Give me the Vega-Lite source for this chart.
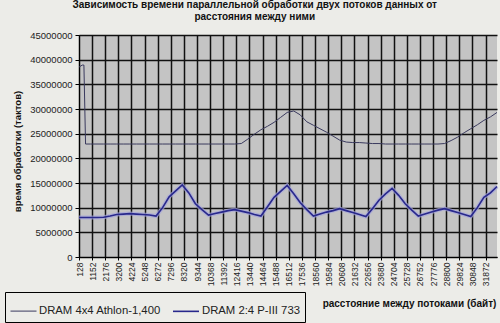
{
  "$schema": "https://vega.github.io/schema/vega-lite/v6.json",
  "width": 418,
  "height": 222,
  "autosize": {"type": "none"},
  "padding": {"left": 79, "top": 35, "right": 3, "bottom": 66},
  "background": "#ecece8",
  "title": {
    "text": "Зависимость времени параллельной обработки двух потоков данных от",
    "subtitle": "расстояния между ними",
    "font": "Liberation Sans",
    "subtitleFont": "Liberation Sans",
    "fontSize": 10,
    "subtitleFontSize": 10,
    "fontWeight": "bold",
    "subtitleFontWeight": "bold",
    "color": "#111111",
    "subtitleColor": "#111111",
    "anchor": "middle",
    "frame": "bounds",
    "offset": 8,
    "subtitlePadding": 2
  },
  "config": {
    "view": {"fill": "#c4c4c4", "stroke": null},
    "font": "Liberation Sans"
  },
  "data": {
    "values": [
      {"x": 128, "s": "DRAM 4x4 Athlon-1,400", "v": 38500000},
      {"x": 384, "s": "DRAM 4x4 Athlon-1,400", "v": 38900000},
      {"x": 512, "s": "DRAM 4x4 Athlon-1,400", "v": 38900000},
      {"x": 640, "s": "DRAM 4x4 Athlon-1,400", "v": 22900000},
      {"x": 1024, "s": "DRAM 4x4 Athlon-1,400", "v": 22900000},
      {"x": 1536, "s": "DRAM 4x4 Athlon-1,400", "v": 22900000},
      {"x": 2048, "s": "DRAM 4x4 Athlon-1,400", "v": 22900000},
      {"x": 2560, "s": "DRAM 4x4 Athlon-1,400", "v": 22900000},
      {"x": 3072, "s": "DRAM 4x4 Athlon-1,400", "v": 22900000},
      {"x": 3584, "s": "DRAM 4x4 Athlon-1,400", "v": 22900000},
      {"x": 4096, "s": "DRAM 4x4 Athlon-1,400", "v": 22900000},
      {"x": 4608, "s": "DRAM 4x4 Athlon-1,400", "v": 22900000},
      {"x": 5120, "s": "DRAM 4x4 Athlon-1,400", "v": 22900000},
      {"x": 5632, "s": "DRAM 4x4 Athlon-1,400", "v": 22900000},
      {"x": 6144, "s": "DRAM 4x4 Athlon-1,400", "v": 22900000},
      {"x": 6656, "s": "DRAM 4x4 Athlon-1,400", "v": 22900000},
      {"x": 7168, "s": "DRAM 4x4 Athlon-1,400", "v": 22900000},
      {"x": 7680, "s": "DRAM 4x4 Athlon-1,400", "v": 22900000},
      {"x": 8192, "s": "DRAM 4x4 Athlon-1,400", "v": 22900000},
      {"x": 8704, "s": "DRAM 4x4 Athlon-1,400", "v": 22900000},
      {"x": 9216, "s": "DRAM 4x4 Athlon-1,400", "v": 22900000},
      {"x": 9728, "s": "DRAM 4x4 Athlon-1,400", "v": 22900000},
      {"x": 10240, "s": "DRAM 4x4 Athlon-1,400", "v": 22900000},
      {"x": 10752, "s": "DRAM 4x4 Athlon-1,400", "v": 22900000},
      {"x": 11264, "s": "DRAM 4x4 Athlon-1,400", "v": 22900000},
      {"x": 11776, "s": "DRAM 4x4 Athlon-1,400", "v": 22900000},
      {"x": 12288, "s": "DRAM 4x4 Athlon-1,400", "v": 22900000},
      {"x": 12800, "s": "DRAM 4x4 Athlon-1,400", "v": 23000000},
      {"x": 13312, "s": "DRAM 4x4 Athlon-1,400", "v": 23900000},
      {"x": 13824, "s": "DRAM 4x4 Athlon-1,400", "v": 24900000},
      {"x": 14336, "s": "DRAM 4x4 Athlon-1,400", "v": 25800000},
      {"x": 14848, "s": "DRAM 4x4 Athlon-1,400", "v": 26500000},
      {"x": 15360, "s": "DRAM 4x4 Athlon-1,400", "v": 27300000},
      {"x": 15872, "s": "DRAM 4x4 Athlon-1,400", "v": 28300000},
      {"x": 16384, "s": "DRAM 4x4 Athlon-1,400", "v": 29300000},
      {"x": 16896, "s": "DRAM 4x4 Athlon-1,400", "v": 29600000},
      {"x": 17408, "s": "DRAM 4x4 Athlon-1,400", "v": 28800000},
      {"x": 17920, "s": "DRAM 4x4 Athlon-1,400", "v": 27400000},
      {"x": 18432, "s": "DRAM 4x4 Athlon-1,400", "v": 26700000},
      {"x": 18944, "s": "DRAM 4x4 Athlon-1,400", "v": 26000000},
      {"x": 19456, "s": "DRAM 4x4 Athlon-1,400", "v": 25300000},
      {"x": 19968, "s": "DRAM 4x4 Athlon-1,400", "v": 24500000},
      {"x": 20480, "s": "DRAM 4x4 Athlon-1,400", "v": 23700000},
      {"x": 20992, "s": "DRAM 4x4 Athlon-1,400", "v": 23300000},
      {"x": 21504, "s": "DRAM 4x4 Athlon-1,400", "v": 23200000},
      {"x": 22016, "s": "DRAM 4x4 Athlon-1,400", "v": 23200000},
      {"x": 22528, "s": "DRAM 4x4 Athlon-1,400", "v": 23100000},
      {"x": 23040, "s": "DRAM 4x4 Athlon-1,400", "v": 23000000},
      {"x": 23552, "s": "DRAM 4x4 Athlon-1,400", "v": 23000000},
      {"x": 24064, "s": "DRAM 4x4 Athlon-1,400", "v": 22900000},
      {"x": 24576, "s": "DRAM 4x4 Athlon-1,400", "v": 22900000},
      {"x": 25088, "s": "DRAM 4x4 Athlon-1,400", "v": 22900000},
      {"x": 25600, "s": "DRAM 4x4 Athlon-1,400", "v": 22900000},
      {"x": 26112, "s": "DRAM 4x4 Athlon-1,400", "v": 22900000},
      {"x": 26624, "s": "DRAM 4x4 Athlon-1,400", "v": 22900000},
      {"x": 27136, "s": "DRAM 4x4 Athlon-1,400", "v": 22900000},
      {"x": 27648, "s": "DRAM 4x4 Athlon-1,400", "v": 22900000},
      {"x": 28160, "s": "DRAM 4x4 Athlon-1,400", "v": 22900000},
      {"x": 28672, "s": "DRAM 4x4 Athlon-1,400", "v": 23000000},
      {"x": 29184, "s": "DRAM 4x4 Athlon-1,400", "v": 23600000},
      {"x": 29696, "s": "DRAM 4x4 Athlon-1,400", "v": 24300000},
      {"x": 30208, "s": "DRAM 4x4 Athlon-1,400", "v": 25200000},
      {"x": 30720, "s": "DRAM 4x4 Athlon-1,400", "v": 26000000},
      {"x": 31232, "s": "DRAM 4x4 Athlon-1,400", "v": 26800000},
      {"x": 31744, "s": "DRAM 4x4 Athlon-1,400", "v": 27700000},
      {"x": 32256, "s": "DRAM 4x4 Athlon-1,400", "v": 28400000},
      {"x": 32768, "s": "DRAM 4x4 Athlon-1,400", "v": 29300000},
      {"x": 128, "s": "DRAM 2:4 P-III 733", "v": 8000000},
      {"x": 384, "s": "DRAM 2:4 P-III 733", "v": 8000000},
      {"x": 512, "s": "DRAM 2:4 P-III 733", "v": 8000000},
      {"x": 640, "s": "DRAM 2:4 P-III 733", "v": 8000000},
      {"x": 1024, "s": "DRAM 2:4 P-III 733", "v": 8000000},
      {"x": 1536, "s": "DRAM 2:4 P-III 733", "v": 8000000},
      {"x": 2048, "s": "DRAM 2:4 P-III 733", "v": 8050000},
      {"x": 2560, "s": "DRAM 2:4 P-III 733", "v": 8300000},
      {"x": 3072, "s": "DRAM 2:4 P-III 733", "v": 8600000},
      {"x": 3584, "s": "DRAM 2:4 P-III 733", "v": 8700000},
      {"x": 4096, "s": "DRAM 2:4 P-III 733", "v": 8800000},
      {"x": 4608, "s": "DRAM 2:4 P-III 733", "v": 8700000},
      {"x": 5120, "s": "DRAM 2:4 P-III 733", "v": 8600000},
      {"x": 5632, "s": "DRAM 2:4 P-III 733", "v": 8500000},
      {"x": 6144, "s": "DRAM 2:4 P-III 733", "v": 8300000},
      {"x": 6656, "s": "DRAM 2:4 P-III 733", "v": 10000000},
      {"x": 7168, "s": "DRAM 2:4 P-III 733", "v": 12200000},
      {"x": 7680, "s": "DRAM 2:4 P-III 733", "v": 13400000},
      {"x": 8192, "s": "DRAM 2:4 P-III 733", "v": 14600000},
      {"x": 8704, "s": "DRAM 2:4 P-III 733", "v": 13000000},
      {"x": 9216, "s": "DRAM 2:4 P-III 733", "v": 10800000},
      {"x": 9728, "s": "DRAM 2:4 P-III 733", "v": 9600000},
      {"x": 10240, "s": "DRAM 2:4 P-III 733", "v": 8500000},
      {"x": 10752, "s": "DRAM 2:4 P-III 733", "v": 8800000},
      {"x": 11264, "s": "DRAM 2:4 P-III 733", "v": 9100000},
      {"x": 11776, "s": "DRAM 2:4 P-III 733", "v": 9400000},
      {"x": 12288, "s": "DRAM 2:4 P-III 733", "v": 9600000},
      {"x": 12800, "s": "DRAM 2:4 P-III 733", "v": 9300000},
      {"x": 13312, "s": "DRAM 2:4 P-III 733", "v": 9000000},
      {"x": 13824, "s": "DRAM 2:4 P-III 733", "v": 8600000},
      {"x": 14336, "s": "DRAM 2:4 P-III 733", "v": 8300000},
      {"x": 14848, "s": "DRAM 2:4 P-III 733", "v": 10200000},
      {"x": 15360, "s": "DRAM 2:4 P-III 733", "v": 12100000},
      {"x": 15872, "s": "DRAM 2:4 P-III 733", "v": 13300000},
      {"x": 16384, "s": "DRAM 2:4 P-III 733", "v": 14500000},
      {"x": 16896, "s": "DRAM 2:4 P-III 733", "v": 12800000},
      {"x": 17408, "s": "DRAM 2:4 P-III 733", "v": 11000000},
      {"x": 17920, "s": "DRAM 2:4 P-III 733", "v": 9600000},
      {"x": 18432, "s": "DRAM 2:4 P-III 733", "v": 8300000},
      {"x": 18944, "s": "DRAM 2:4 P-III 733", "v": 8700000},
      {"x": 19456, "s": "DRAM 2:4 P-III 733", "v": 9100000},
      {"x": 19968, "s": "DRAM 2:4 P-III 733", "v": 9400000},
      {"x": 20480, "s": "DRAM 2:4 P-III 733", "v": 9800000},
      {"x": 20992, "s": "DRAM 2:4 P-III 733", "v": 9400000},
      {"x": 21504, "s": "DRAM 2:4 P-III 733", "v": 9000000},
      {"x": 22016, "s": "DRAM 2:4 P-III 733", "v": 8600000},
      {"x": 22528, "s": "DRAM 2:4 P-III 733", "v": 8200000},
      {"x": 23040, "s": "DRAM 2:4 P-III 733", "v": 9800000},
      {"x": 23552, "s": "DRAM 2:4 P-III 733", "v": 11500000},
      {"x": 24064, "s": "DRAM 2:4 P-III 733", "v": 12800000},
      {"x": 24576, "s": "DRAM 2:4 P-III 733", "v": 13900000},
      {"x": 25088, "s": "DRAM 2:4 P-III 733", "v": 12500000},
      {"x": 25600, "s": "DRAM 2:4 P-III 733", "v": 10800000},
      {"x": 26112, "s": "DRAM 2:4 P-III 733", "v": 9500000},
      {"x": 26624, "s": "DRAM 2:4 P-III 733", "v": 8300000},
      {"x": 27136, "s": "DRAM 2:4 P-III 733", "v": 8700000},
      {"x": 27648, "s": "DRAM 2:4 P-III 733", "v": 9100000},
      {"x": 28160, "s": "DRAM 2:4 P-III 733", "v": 9500000},
      {"x": 28672, "s": "DRAM 2:4 P-III 733", "v": 9800000},
      {"x": 29184, "s": "DRAM 2:4 P-III 733", "v": 9400000},
      {"x": 29696, "s": "DRAM 2:4 P-III 733", "v": 9000000},
      {"x": 30208, "s": "DRAM 2:4 P-III 733", "v": 8600000},
      {"x": 30720, "s": "DRAM 2:4 P-III 733", "v": 8200000},
      {"x": 31232, "s": "DRAM 2:4 P-III 733", "v": 10000000},
      {"x": 31744, "s": "DRAM 2:4 P-III 733", "v": 12100000},
      {"x": 32256, "s": "DRAM 2:4 P-III 733", "v": 13000000},
      {"x": 32768, "s": "DRAM 2:4 P-III 733", "v": 14300000}
    ]
  },
  "encoding": {
    "x": {
      "field": "x",
      "type": "quantitative",
      "scale": {"domain": [128, 32768], "nice": false, "zero": false},
      "axis": {
        "values": [128, 1152, 2176, 3200, 4224, 5248, 6272, 7296, 8320, 9344, 10368, 11392, 12416, 13440, 14464, 15488, 16512, 17536, 18560, 19584, 20608, 21632, 22656, 23680, 24704, 25728, 26752, 27776, 28800, 29824, 30848, 31872],
        "format": "d",
        "labelAngle": -90,
        "labelFontSize": 8.5,
        "labelColor": "#222222",
        "labelPadding": 2,
        "labelOverlap": false,
        "labelFlush": false,
        "tickSize": 3,
        "tickColor": "#000000",
        "domainColor": "#000000",
        "grid": true,
        "gridColor": "#111111",
        "gridWidth": 1.5,
        "title": "расстояние между потоками (байт)",
        "titleFontSize": 10,
        "titleFontWeight": "bold",
        "titleColor": "#111111",
        "titleX": 330,
        "titleY": 46,
        "titleAlign": "center",
        "titleBaseline": "middle"
      }
    },
    "y": {
      "field": "v",
      "type": "quantitative",
      "scale": {"domain": [0, 45000000], "nice": false},
      "axis": {
        "values": [0, 5000000, 10000000, 15000000, 20000000, 25000000, 30000000, 35000000, 40000000, 45000000],
        "format": "d",
        "labelFontSize": 9.5,
        "labelColor": "#222222",
        "labelPadding": 3,
        "tickSize": 4,
        "tickColor": "#000000",
        "domainColor": "#000000",
        "grid": true,
        "gridColor": "#111111",
        "gridWidth": 1.5,
        "title": "время обработки (тактов)",
        "titleFontSize": 9.5,
        "titleFontWeight": "bold",
        "titleColor": "#111111",
        "titleX": -62,
        "titleY": 116,
        "titleAngle": -90,
        "titleAlign": "center",
        "titleBaseline": "middle"
      }
    }
  },
  "layer": [
    {
      "transform": [{"filter": "datum.s === 'DRAM 2:4 P-III 733'"}],
      "mark": {"type": "line", "color": "#a4a4dc", "strokeWidth": 4, "opacity": 0.7},
      "encoding": {"detail": {"field": "s"}}
    },
    {
      "mark": {"type": "line"},
      "encoding": {
        "color": {
          "field": "s",
          "type": "nominal",
          "sort": ["DRAM 4x4 Athlon-1,400", "DRAM 2:4 P-III 733"],
          "scale": {"domain": ["DRAM 4x4 Athlon-1,400", "DRAM 2:4 P-III 733"], "range": ["#3a3a5e", "#28288c"]},
          "legend": {
            "title": null,
            "orient": "none",
            "legendX": -74,
            "legendY": 257,
            "direction": "horizontal",
            "strokeColor": "#000000",
            "padding": 5,
            "symbolType": "stroke",
            "symbolSize": 676,
            "symbolStrokeWidth": 1.3,
            "labelFontSize": 11.3,
            "labelColor": "#222222",
            "labelOffset": 2,
            "columnPadding": 8
          }
        },
        "strokeWidth": {
          "field": "s",
          "type": "nominal",
          "scale": {"domain": ["DRAM 4x4 Athlon-1,400", "DRAM 2:4 P-III 733"], "range": [1, 1.6]},
          "legend": null
        }
      }
    }
  ]
}
